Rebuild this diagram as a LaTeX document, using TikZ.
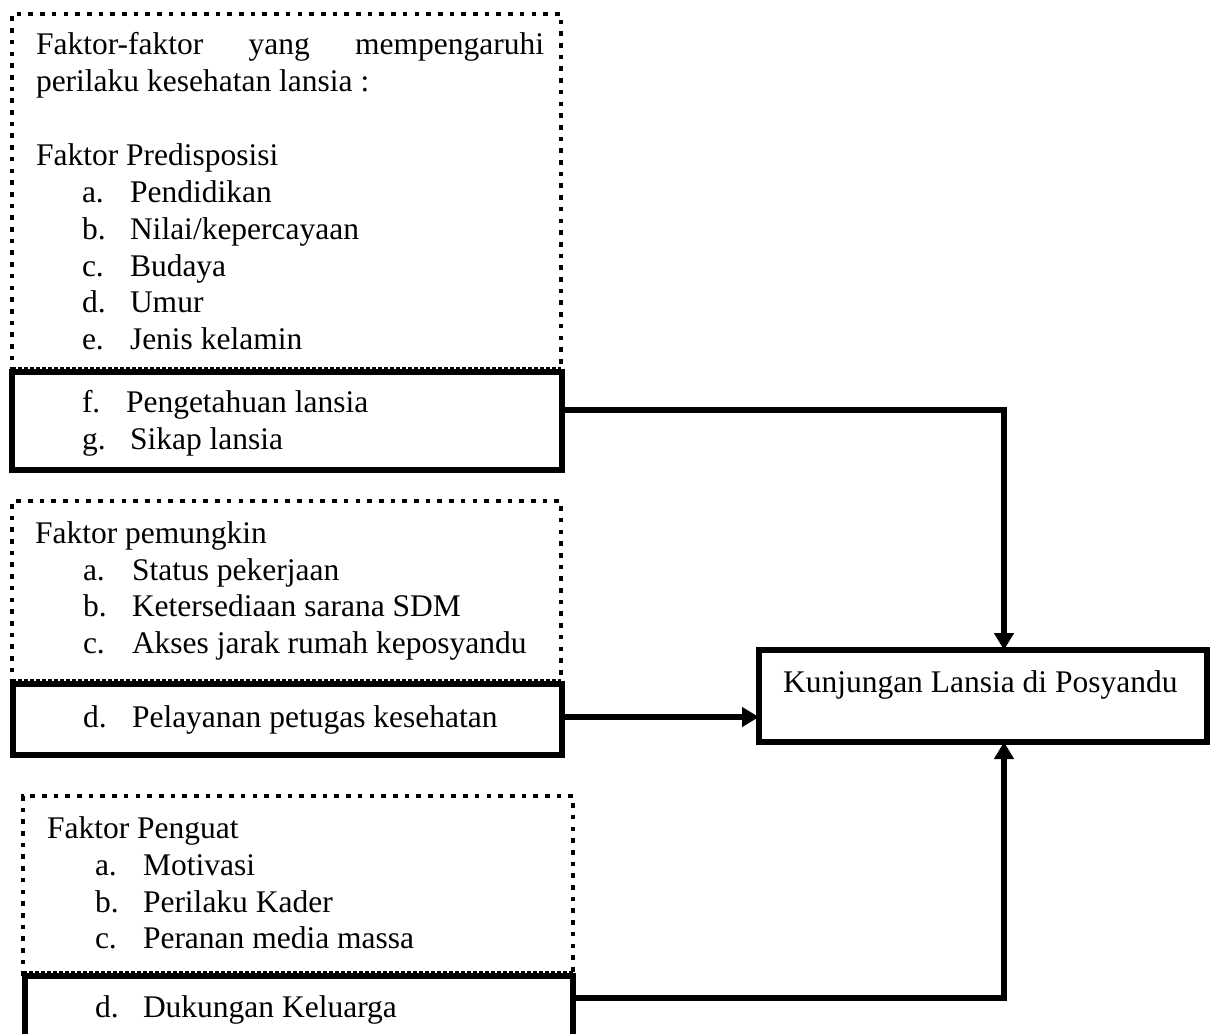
\documentclass[tikz,border=0pt]{standalone}
\usepackage{fontspec}
\setmainfont{Liberation Serif}
\usetikzlibrary{arrows.meta}
\begin{document}
\begin{tikzpicture}[x=1pt,y=-1pt,
  txt/.style={anchor=base west, inner sep=0pt, outer sep=0pt, font=\fontsize{31.5}{37}\selectfont},
  solidbox/.style={draw, line width=6pt, inner sep=0pt, outer sep=0pt, anchor=north west},
  dotline/.style={line width=4.8pt, dash pattern=on 4.6pt off 7.1pt},
  thindash/.style={line width=1.3pt, dash pattern=on 4pt off 2pt},
  conn/.style={line width=5.5pt},
  arr/.style={conn, -{Triangle[length=17pt,width=19pt]}}
]
\useasboundingbox (0,0) rectangle (1219,1034);
\clip (0,0) rectangle (1219,1034);

% dotted frames
\draw[dotline] (12,372) -- (12,14) -- (561,14) -- (561,372);
\draw[thindash] (12,368) -- (561,368);
\draw[dotline] (12,684) -- (12,501) -- (561,501) -- (561,684);
\draw[thindash] (12,680) -- (561,680);
\draw[dotline] (23,976) -- (23,796) -- (573,796) -- (573,976);
\draw[thindash] (23,972) -- (573,972);

% solid boxes
\node[solidbox, minimum width=550pt, minimum height=98pt] (s1) at (12,372) {};
\node[solidbox, minimum width=549pt, minimum height=71pt] (s2) at (12.5,684) {};
\node[solidbox, minimum width=548pt, minimum height=100pt] (s3) at (25,976) {};
\node[solidbox, minimum width=448pt, minimum height=92pt] (kunj) at (759,650) {};

% texts box 1
\node[txt] (h1a) at (36,54) {\makebox[508pt][s]{Faktor-faktor yang mempengaruhi}};
\node[txt] (h1b) at (36,91) {perilaku kesehatan lansia :};
\node[txt] (h1c) at (36,165) {Faktor Predisposisi};
\node[txt] (m1a) at (82,202) {a.};  \node[txt] (i1a) at (130,202) {Pendidikan};
\node[txt] (m1b) at (82,239) {b.};  \node[txt] (i1b) at (130,239) {Nilai/kepercayaan};
\node[txt] (m1c) at (82,276) {c.};  \node[txt] (i1c) at (130,276) {Budaya};
\node[txt] (m1d) at (82,312) {d.};  \node[txt] (i1d) at (130,312) {Umur};
\node[txt] (m1e) at (82,349) {e.};  \node[txt] (i1e) at (130,349) {Jenis kelamin};
\node[txt] (m1f) at (82,412) {f.};  \node[txt] (i1f) at (126,412) {Pengetahuan lansia};
\node[txt] (m1g) at (82,449) {g.};  \node[txt] (i1g) at (130,449) {Sikap lansia};

% texts box 2
\node[txt] (h2) at (35,543) {Faktor pemungkin};
\node[txt] (m2a) at (83,580) {a.};  \node[txt] (i2a) at (132,580) {Status pekerjaan};
\node[txt] (m2b) at (83,616) {b.};  \node[txt] (i2b) at (132,616) {Ketersediaan sarana SDM};
\node[txt] (m2c) at (83,653) {c.};  \node[txt] (i2c) at (132,653) {Akses jarak rumah keposyandu};
\node[txt] (m2d) at (83,727) {d.};  \node[txt] (i2d) at (132,727) {Pelayanan petugas kesehatan};

% texts box 3
\node[txt] (h3) at (47,838) {Faktor Penguat};
\node[txt] (m3a) at (95,875) {a.};  \node[txt] (i3a) at (143,875) {Motivasi};
\node[txt] (m3b) at (95,912) {b.};  \node[txt] (i3b) at (143,912) {Perilaku Kader};
\node[txt] (m3c) at (95,948) {c.};  \node[txt] (i3c) at (143,948) {Peranan media massa};
\node[txt] (m3d) at (95,1017) {d.}; \node[txt] (i3d) at (143,1017) {Dukungan Keluarga};

% target text
\node[txt] (kunjtxt) at (783,692) {Kunjungan Lansia di Posyandu};

% connectors
\coordinate (j1) at (1004,410);
\coordinate (j2) at (700,717);
\coordinate (j3) at (1004,998);
\draw[arr] (s1.east |- j1) -- (j1) -- (kunj.north -| j1);
\draw[arr] (s2.east |- j2) -- (kunj.west |- j2);
\draw[arr] (s3.east |- j3) -- (j3) -- (kunj.south -| j3);
\end{tikzpicture}
\end{document}
